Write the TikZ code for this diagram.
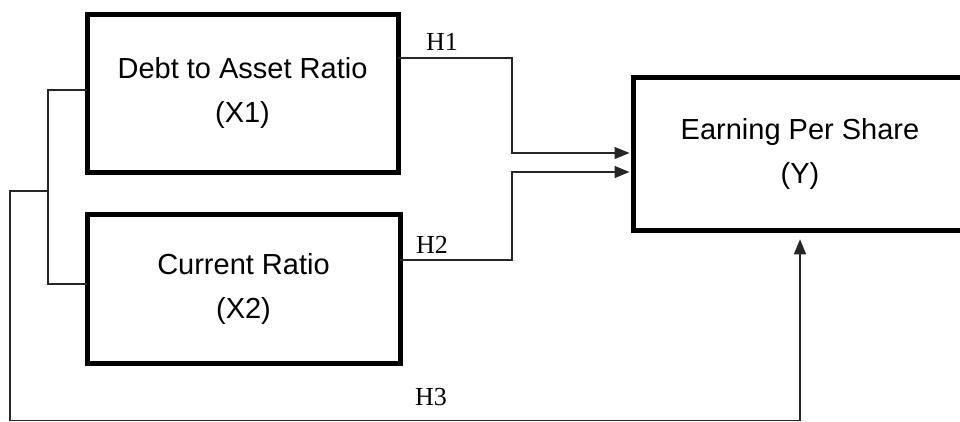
\documentclass[tikz,border=0pt]{standalone}
\usepackage{fontspec}
\setmainfont{Liberation Sans}
\newfontfamily\hfont{Liberation Serif}
\usetikzlibrary{arrows.meta}
\begin{document}
\begin{tikzpicture}[x=1pt,y=-1pt,
  varbox/.style={draw=black,line width=5pt,inner sep=0pt,outer sep=0pt,align=center,
    font=\fontsize{29}{44}\selectfont},
  conn/.style={draw=black!85,line width=1.3pt},
  arr/.style={conn,-{Triangle[length=15pt,width=12pt]}},
  hlab/.style={font=\hfont\fontsize{26}{28}\selectfont,inner sep=0pt}]
\useasboundingbox (0,0) rectangle (960,421);
\clip (0,0) rectangle (960,421);
\node[varbox,minimum width=311pt,minimum height=158pt] (X1) at (242.5,93) {Debt to Asset Ratio\\(X1)};
\node[varbox,minimum width=313pt,minimum height=149pt] (X2) at (243.5,288.5) {Current Ratio\\(X2)};
\node[varbox,minimum width=334pt,minimum height=153.5pt] (Y) at (800,154) {Earning Per Share\\(Y)};
% H1
\draw[arr,shorten >=3.5pt] ([yshift=35pt]X1.east) -| (512,153) -- ([yshift=1pt]Y.west);
% H2
\draw[arr,shorten >=3.5pt] ([yshift=28.5pt]X2.east) -| (512,172) -- ([yshift=-18pt]Y.west);
% bracket
\coordinate (join) at (48,191);
\draw[conn] ([yshift=3pt]X1.west) -- (48,90) -- (48,284) -- ([yshift=4.5pt]X2.west);
% H3
\draw[arr,shorten >=8.5pt] (join) -- (10,191) -- (10,420.5) -- (800,420.5) -- (Y.south);
\node[hlab] (h1) at (442,42) {H1};
\node[hlab] (h2) at (432,245) {H2};
\node[hlab] (h3) at (431,397) {H3};
\end{tikzpicture}
\end{document}
